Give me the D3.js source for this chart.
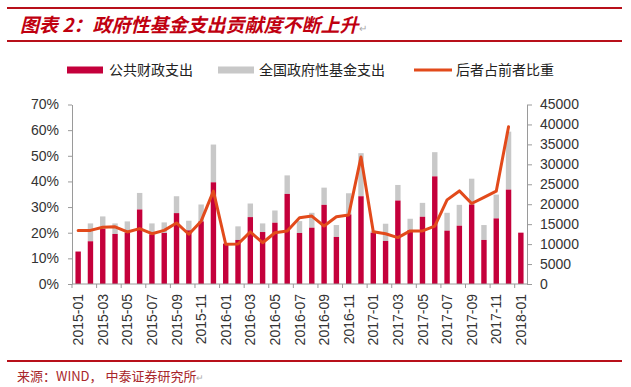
<!DOCTYPE html>
<html><head><meta charset="utf-8">
<script src="https://cdn.jsdelivr.net/npm/d3@7/dist/d3.min.js"></script>
<style>
html,body{margin:0;padding:0;background:#fff;}
svg{display:block;}
</style></head>
<body>
<svg id="c" width="631" height="387"></svg>
<script>
const months = ["2015-01","2015-02","2015-03","2015-04","2015-05","2015-06","2015-07","2015-08","2015-09","2015-10","2015-11","2015-12",
"2016-01","2016-02","2016-03","2016-04","2016-05","2016-06","2016-07","2016-08","2016-09","2016-10","2016-11","2016-12",
"2017-01","2017-02","2017-03","2017-04","2017-05","2017-06","2017-07","2017-08","2017-09","2017-10","2017-11","2017-12","2018-01"];
// 公共财政支出 (crimson bars)
const publicSpend = [8140,10710,13870,12540,12870,18680,12450,12790,17770,13450,15690,25490,
10130,11040,16770,13030,15360,22580,12790,14110,19840,11790,17440,22000,
12870,10790,20920,13530,16850,26980,13370,14610,19930,11040,16440,23660,12870];
// 全国政府性基金支出 (grey, stacked above)
const fundSpend = [0,4480,3070,2650,2820,4150,2740,2650,4230,2410,4240,9470,
0,3410,3410,2160,3070,4650,2980,3740,4320,2990,5310,10800,
500,4320,3910,2830,3490,6070,4480,5230,6470,3740,5970,14530,0];
// 后者占前者比重 (%)
const ratio = [20.9,20.9,22.1,22.3,20.3,21.6,19.6,20.9,23.8,19.4,24.5,36.2,
15.5,15.6,20.3,16.1,20.0,20.7,25.8,26.5,22.6,26.2,26.9,49.5,
20.4,19.6,18.1,20.7,20.7,22.6,32.8,36.3,31.4,33.8,36.2,61.3,null];
const leftTicks = [0,0.1,0.2,0.3,0.4,0.5,0.6,0.7];
const rightTicks = [0,5000,10000,15000,20000,25000,30000,35000,40000,45000];
const xLabels = months.filter((m,i)=>i%2===0);

const title = "图表 2：政府性基金支出贡献度不断上升";
const source = "来源：WIND， 中泰证券研究所";
const legendNames = ["公共财政支出","全国政府性基金支出","后者占前者比重"];

const C_PUB = "#C4003B", C_FUND = "#C8C8C8", C_LINE = "#E24A1B", C_RED = "#B8101A";
const numFont = "'Liberation Sans', Arial, sans-serif";
const cjkFont = "'Noto Sans CJK SC', sans-serif";

const svg = d3.select("#c");
const L = 72, R = 527, T = 104.5, B = 284;

const x = d3.scaleBand().domain(months).range([L, R]).paddingInner(0.56).paddingOuter(0.28);
const yL = d3.scaleLinear().domain([0, 0.7]).range([B, T]);
const yR = d3.scaleLinear().domain([0, 45000]).range([B, T]);
const cx = m => x(m) + x.bandwidth()/2;

// header lines & title
svg.append("line").attr("x1",7).attr("x2",622).attr("y1",8).attr("y2",8).attr("stroke",C_RED).attr("stroke-width",2);
svg.append("line").attr("x1",7).attr("x2",622).attr("y1",41).attr("y2",41).attr("stroke",C_RED).attr("stroke-width",2);
const tt = svg.append("text").attr("x",20).attr("y",32)
  .attr("font-family",cjkFont).attr("font-size",19).attr("font-weight","bold").attr("font-style","italic")
  .attr("fill","#C00010");
tt.append("tspan").text(title);
tt.append("tspan").attr("font-size",10).attr("fill","#aaa").attr("font-weight","normal").attr("font-style","normal").text("↵");

// legend
const lg = svg.append("g").attr("font-family",cjkFont).attr("font-size",14).attr("fill","#222");
lg.append("rect").attr("x",67).attr("y",66.5).attr("width",36).attr("height",7).attr("fill",C_PUB);
lg.append("text").attr("x",109).attr("y",75).text(legendNames[0]);
lg.append("rect").attr("x",218).attr("y",66.5).attr("width",36).attr("height",7).attr("fill",C_FUND);
lg.append("text").attr("x",259).attr("y",75).text(legendNames[1]);
lg.append("line").attr("x1",414).attr("x2",452).attr("y1",70).attr("y2",70).attr("stroke",C_LINE).attr("stroke-width",3);
lg.append("text").attr("x",456).attr("y",75).text(legendNames[2]);

// bars
const g = svg.append("g");
g.selectAll("rect.fund").data(months).join("rect").attr("class","fund")
  .attr("x", m => x(m)).attr("width", x.bandwidth())
  .attr("y", (m,i) => yR(publicSpend[i] + fundSpend[i]))
  .attr("height", (m,i) => yR(publicSpend[i]) - yR(publicSpend[i] + fundSpend[i]))
  .attr("fill", C_FUND);
g.selectAll("rect.pub").data(months).join("rect").attr("class","pub")
  .attr("x", m => x(m)).attr("width", x.bandwidth())
  .attr("y", (m,i) => yR(publicSpend[i]))
  .attr("height", (m,i) => yR(0) - yR(publicSpend[i]))
  .attr("fill", C_PUB);

// axes
const axisColor = "#9a9a9a";
const gl = svg.append("g").attr("transform",`translate(${L},0)`)
  .call(d3.axisLeft(yL).tickValues(leftTicks).tickFormat(d3.format(".0%")).tickSize(4).tickSizeOuter(0).tickPadding(9));
const gr = svg.append("g").attr("transform",`translate(${R},0)`)
  .call(d3.axisRight(yR).tickValues(rightTicks).tickFormat(d3.format("d")).tickSize(5).tickSizeOuter(0).tickPadding(8));
[gl, gr].forEach(a => {
  a.selectAll("path,line").attr("stroke", axisColor);
  a.selectAll("text").attr("font-family", numFont).attr("font-size", 14).attr("fill", "#333");
});

// bottom axis
const gb = svg.append("g");
gb.append("line").attr("x1",L).attr("x2",R).attr("y1",B).attr("y2",B).attr("stroke",axisColor);
const step = x.step();
gb.selectAll("line.tk").data(xLabels).join("line").attr("class","tk")
  .attr("x1", m => x(m) - step*x.paddingInner()/2).attr("x2", m => x(m) - step*x.paddingInner()/2)
  .attr("y1", B).attr("y2", B+4).attr("stroke", axisColor);
gb.selectAll("text").data(xLabels).join("text")
  .attr("transform", m => `translate(${cx(m)},${B+10}) rotate(-90)`)
  .attr("text-anchor","end").attr("dy","0.36em")
  .attr("font-family", numFont).attr("font-size", 14).attr("fill","#333")
  .text(m => m);

// ratio line
const line = d3.line().defined(d => d[1] != null)
  .x(d => cx(d[0])).y(d => yL(d[1]/100));
svg.append("path").datum(months.map((m,i)=>[m, ratio[i]]))
  .attr("d", line).attr("fill","none").attr("stroke",C_LINE).attr("stroke-width",3)
  .attr("stroke-linejoin","round").attr("stroke-linecap","round");

// footer
svg.append("line").attr("x1",7).attr("x2",622).attr("y1",361).attr("y2",361).attr("stroke",C_RED).attr("stroke-width",2);
const st = svg.append("text").attr("x",17).attr("y",381)
  .attr("font-family",cjkFont).attr("font-size",13).attr("fill","#A8262A");
st.append("tspan").text(source);
st.append("tspan").attr("font-size",9).attr("fill","#aaa").text("↵");
</script>
</body></html>
